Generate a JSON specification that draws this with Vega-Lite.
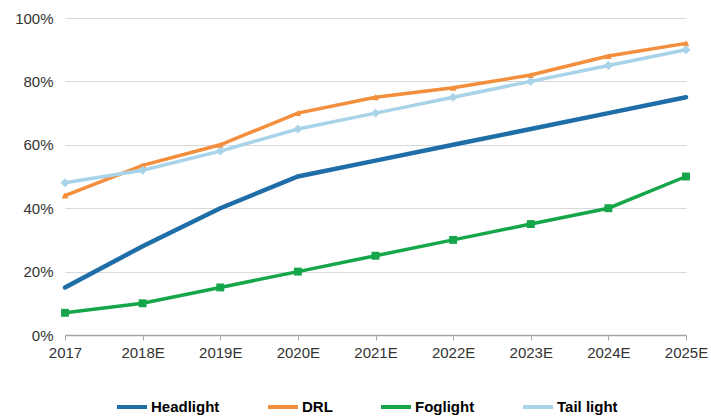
{
  "$schema": "https://vega.github.io/schema/vega-lite/v6.json",
  "autosize": "none",
  "width": 621,
  "height": 317,
  "padding": {"left": 65, "top": 18, "right": 25, "bottom": 81},
  "background": "white",
  "config": {
    "view": {"stroke": null},
    "font": "Liberation Sans"
  },
  "data": {
    "values": [
      {"year": "2017", "series": "Headlight", "value": 0.15},
      {"year": "2018E", "series": "Headlight", "value": 0.28},
      {"year": "2019E", "series": "Headlight", "value": 0.40},
      {"year": "2020E", "series": "Headlight", "value": 0.50},
      {"year": "2021E", "series": "Headlight", "value": 0.55},
      {"year": "2022E", "series": "Headlight", "value": 0.60},
      {"year": "2023E", "series": "Headlight", "value": 0.65},
      {"year": "2024E", "series": "Headlight", "value": 0.70},
      {"year": "2025E", "series": "Headlight", "value": 0.75},
      {"year": "2017", "series": "DRL", "value": 0.44},
      {"year": "2018E", "series": "DRL", "value": 0.535},
      {"year": "2019E", "series": "DRL", "value": 0.60},
      {"year": "2020E", "series": "DRL", "value": 0.70},
      {"year": "2021E", "series": "DRL", "value": 0.75},
      {"year": "2022E", "series": "DRL", "value": 0.78},
      {"year": "2023E", "series": "DRL", "value": 0.82},
      {"year": "2024E", "series": "DRL", "value": 0.88},
      {"year": "2025E", "series": "DRL", "value": 0.92},
      {"year": "2017", "series": "Foglight", "value": 0.07},
      {"year": "2018E", "series": "Foglight", "value": 0.10},
      {"year": "2019E", "series": "Foglight", "value": 0.15},
      {"year": "2020E", "series": "Foglight", "value": 0.20},
      {"year": "2021E", "series": "Foglight", "value": 0.25},
      {"year": "2022E", "series": "Foglight", "value": 0.30},
      {"year": "2023E", "series": "Foglight", "value": 0.35},
      {"year": "2024E", "series": "Foglight", "value": 0.40},
      {"year": "2025E", "series": "Foglight", "value": 0.50},
      {"year": "2017", "series": "Tail light", "value": 0.48},
      {"year": "2018E", "series": "Tail light", "value": 0.52},
      {"year": "2019E", "series": "Tail light", "value": 0.58},
      {"year": "2020E", "series": "Tail light", "value": 0.65},
      {"year": "2021E", "series": "Tail light", "value": 0.70},
      {"year": "2022E", "series": "Tail light", "value": 0.75},
      {"year": "2023E", "series": "Tail light", "value": 0.80},
      {"year": "2024E", "series": "Tail light", "value": 0.85},
      {"year": "2025E", "series": "Tail light", "value": 0.90}
    ]
  },
  "encoding": {
    "x": {
      "field": "year",
      "type": "ordinal",
      "sort": null,
      "scale": {"type": "point", "padding": 0},
      "axis": {
        "title": null,
        "labelAngle": 0,
        "labelFontSize": 15,
        "labelColor": "#333333",
        "labelPadding": 5,
        "domainColor": "#a6a6a6",
        "domainWidth": 1.5,
        "tickColor": "#a6a6a6",
        "tickSize": 5,
        "grid": false
      }
    },
    "y": {
      "field": "value",
      "type": "quantitative",
      "scale": {"domain": [0, 1]},
      "axis": {
        "title": null,
        "format": ".0%",
        "values": [0, 0.2, 0.4, 0.6, 0.8, 1],
        "labelFontSize": 15,
        "labelColor": "#333333",
        "labelPadding": 12,
        "domain": false,
        "ticks": false,
        "gridColor": "#d9d9d9",
        "gridWidth": 1
      }
    },
    "color": {
      "field": "series",
      "type": "nominal",
      "scale": {
        "domain": ["Headlight", "DRL", "Foglight", "Tail light"],
        "range": ["#1f6ea8", "#f28e3c", "#16a64a", "#a8d3e8"]
      }
    }
  },
  "layer": [
    {
      "mark": {"type": "line", "strokeCap": "round"},
      "encoding": {
        "order": {"field": "year", "sort": "ascending"},
        "strokeWidth": {
          "condition": {"test": "datum.series === 'Headlight'", "value": 4.5},
          "value": 3.5
        },
        "color": {
          "field": "series",
          "type": "nominal",
          "scale": {
            "domain": ["Headlight", "DRL", "Foglight", "Tail light"],
            "range": ["#1f6ea8", "#f28e3c", "#16a64a", "#a8d3e8"]
          },
          "legend": {
            "title": null,
            "orient": "none",
            "direction": "horizontal",
            "legendX": 50,
            "legendY": 372,
            "symbolType": "stroke",
            "symbolSize": 900,
            "symbolStrokeWidth": 4,
            "labelFont": "Liberation Sans",
            "labelFontWeight": "bold",
            "labelFontSize": 15,
            "labelColor": "#000000",
            "labelOffset": 2,
            "columnPadding": 40,
            "columns": 4
          }
        }
      }
    },
    {
      "transform": [{"filter": "datum.series !== 'Headlight'"}],
      "mark": {"type": "point", "filled": true, "opacity": 1},
      "encoding": {
        "shape": {
          "field": "series",
          "type": "nominal",
          "scale": {
            "domain": ["DRL", "Foglight", "Tail light"],
            "range": ["triangle-up", "square", "diamond"]
          },
          "legend": null
        },
        "size": {
          "field": "series",
          "type": "nominal",
          "scale": {
            "domain": ["DRL", "Foglight", "Tail light"],
            "range": [45, 80, 45]
          },
          "legend": null
        }
      }
    }
  ]
}
